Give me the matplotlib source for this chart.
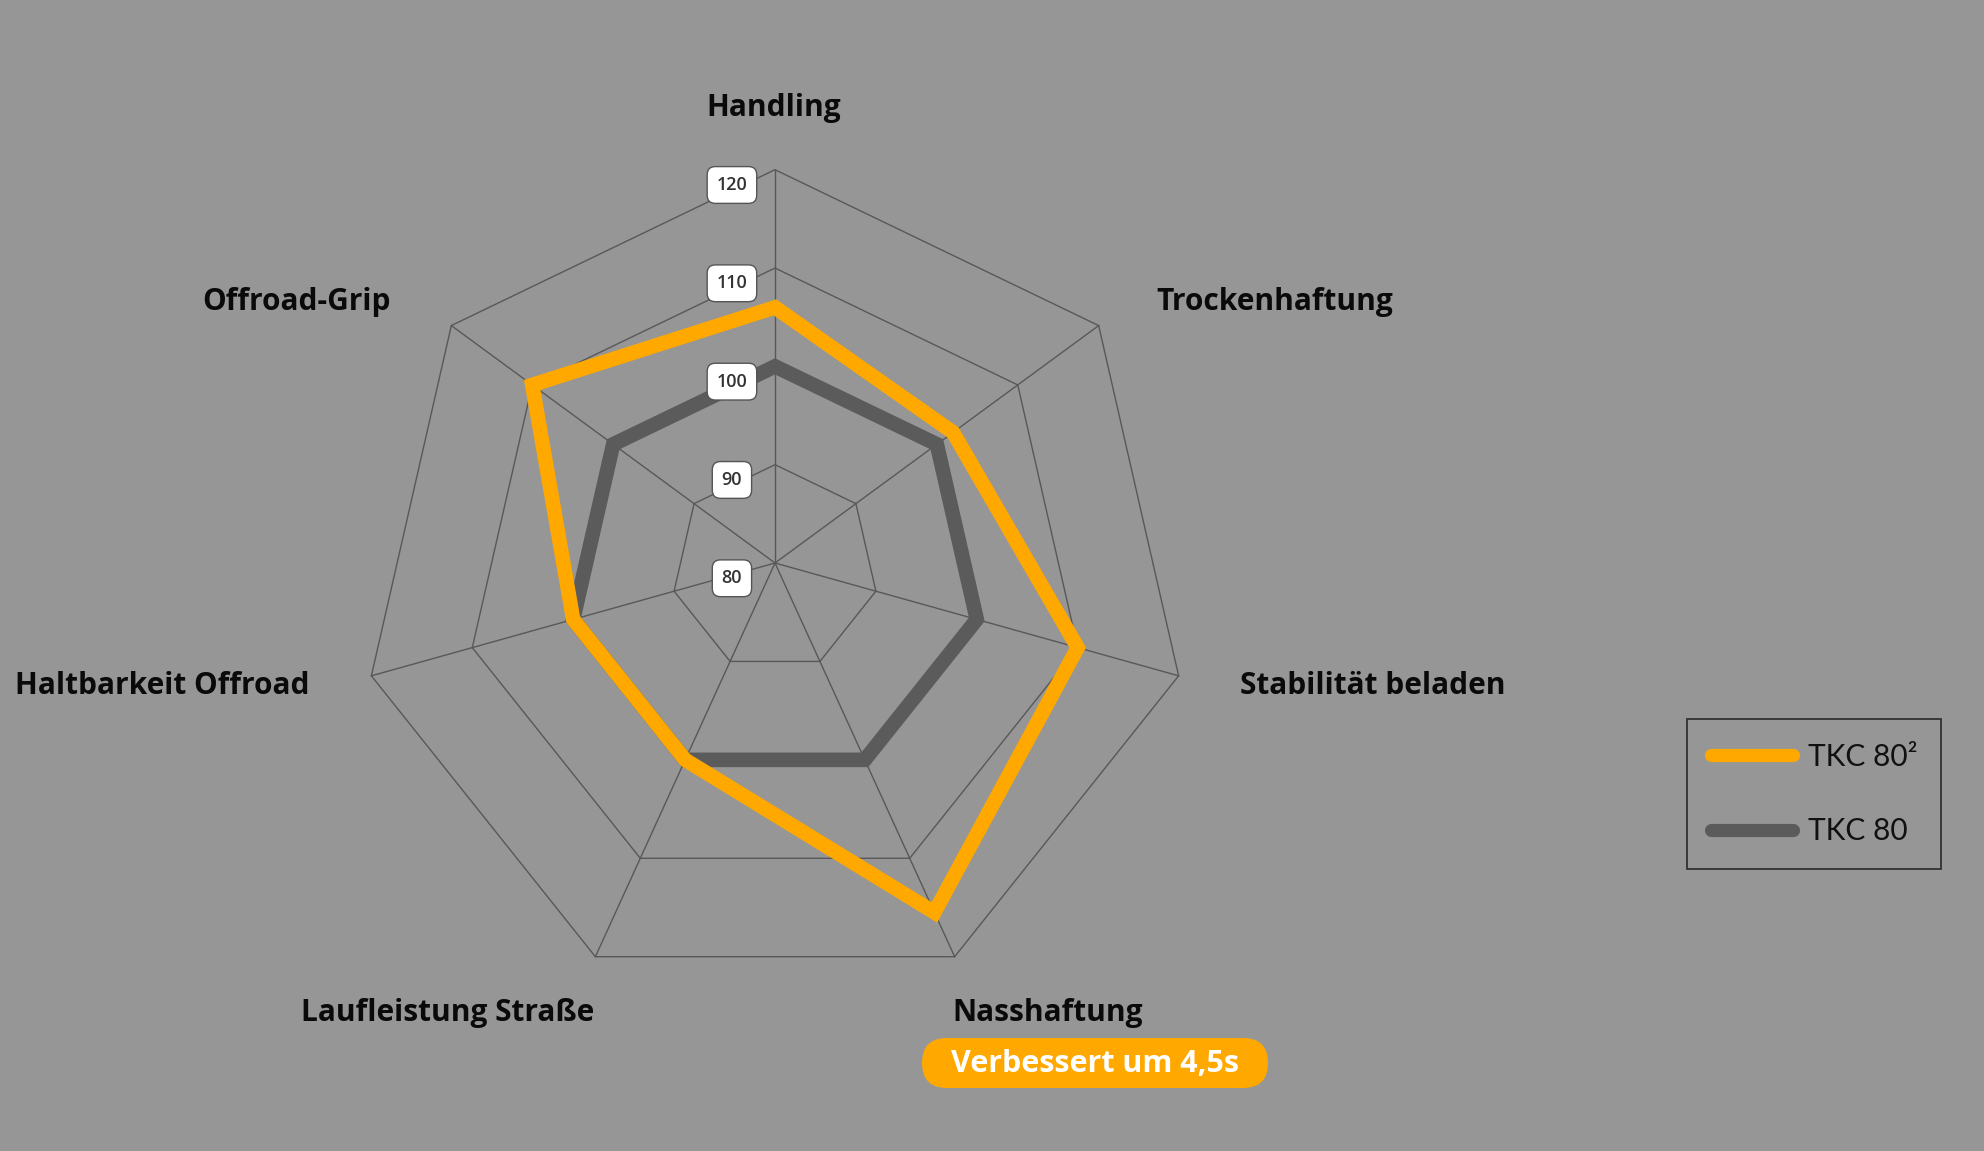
import numpy as np
import matplotlib
matplotlib.use("Agg")
import matplotlib.pyplot as plt
from matplotlib.patches import Polygon, FancyBboxPatch
from matplotlib.lines import Line2D

# ---------------- data ----------------
categories = ["Handling", "Trockenhaftung", "Stabilität beladen", "Nasshaftung",
              "Laufleistung Straße", "Haltbarkeit Offroad", "Offroad-Grip"]
tkc80_2 = [106, 102, 110, 115.5, 100, 100, 110]
tkc80 = [100, 100, 100, 100, 100, 100, 100]
ring_ticks = [80, 90, 100, 110, 120]
series_names = ["TKC 80²", "TKC 80"]
badge_text = "Verbessert um 4,5s"

# ---------------- style ----------------
BG = "#969696"
GRID = "#585858"
ORANGE = "#FFA800"
DARK = "#5B5B5B"
W, H, DPI = 1984, 1151, 100
CX, CY = 775, 563          # pixel position of the spoke centre
S = 10.35                  # pixels per value unit
K = 0.05                   # slight vertical skew of the rings
VMIN = ring_ticks[0]

fig = plt.figure(figsize=(W / DPI, H / DPI), dpi=DPI, facecolor=BG)
ax = fig.add_axes([0, 0, 1, 1])
ax.set_facecolor(BG)
ax.set_xlim(-CX / S, (W - CX) / S)
ax.set_ylim(-(H - CY) / S, CY / S)
ax.axis("off")

n = len(categories)
theta = np.arange(n) * 2 * np.pi / n
dirs = np.column_stack([np.sin(theta), np.cos(theta) - K])


def pts(values):
    r = np.asarray(values, dtype=float) - VMIN
    return dirs * r[:, None]


# rings
for t in ring_ticks[1:]:
    ax.add_patch(Polygon(pts([t] * n), closed=True, fill=False,
                         edgecolor=GRID, lw=1.0, zorder=1))
# spokes
outer = pts([ring_ticks[-1]] * n)
for (x, y) in outer:
    ax.plot([0, x], [0, y], color=GRID, lw=1.0, zorder=1)

# series
ax.add_patch(Polygon(pts(tkc80), closed=True, fill=False, edgecolor=DARK,
                     lw=10.5, joinstyle="miter", zorder=3))
ax.add_patch(Polygon(pts(tkc80_2), closed=True, fill=False, edgecolor=ORANGE,
                     lw=10.5, joinstyle="miter", zorder=4))

# tick label boxes
for t in ring_ticks:
    ax.annotate(str(t), xy=(0, (t - VMIN) * (1 - K)), xytext=(-31, -11),
                textcoords="offset points", ha="center", va="center",
                fontsize=13, fontweight="semibold", family="Open Sans",
                color="#333333", zorder=6,
                bbox=dict(boxstyle="round,pad=0.52,rounding_size=0.45",
                          fc="white", ec="#555555", lw=1.0))

# category labels (figure fractions)
label_pos = [(774, 108), (1275, 302), (1373, 686), (1048, 1013),
             (448, 1013), (162, 686), (297, 302)]
for name, (px, py) in zip(categories, label_pos):
    fig.text(px / W, 1 - py / H, name, ha="center", va="center",
             fontsize=21.5, fontweight="bold", family="Open Sans", color="#0a0a0a")

# badge
badge = FancyBboxPatch((922 / DPI, (H - 1088) / DPI), 346 / DPI, 50 / DPI,
                       boxstyle="round,pad=0,rounding_size=0.25",
                       transform=fig.dpi_scale_trans, fc=ORANGE, ec="none",
                       zorder=5)
fig.patches.append(badge)
fig.text(1095 / W, 1 - 1064 / H, badge_text, ha="center", va="center",
         fontsize=22, fontweight="bold", family="Open Sans", color="white",
         zorder=6)

# legend
handles = [Line2D([], [], color=ORANGE, lw=9.5, solid_capstyle="round"),
           Line2D([], [], color=DARK, lw=9.5, solid_capstyle="round")]
leg = fig.legend(handles, series_names, loc="upper left",
                 bbox_to_anchor=(1687 / W, 1 - 719 / H),
                 prop=dict(family="Lato", weight="normal", size=21.5),
                 frameon=True, fancybox=False, facecolor="none",
                 edgecolor="#222222", handlelength=2.75, handletextpad=0.5,
                 labelspacing=1.55, borderpad=0.8, borderaxespad=0)
leg.get_frame().set_linewidth(1.4)
for txt in leg.get_texts():
    txt.set_color("#111111")

fig.savefig("out.png", dpi=DPI, facecolor=BG)
